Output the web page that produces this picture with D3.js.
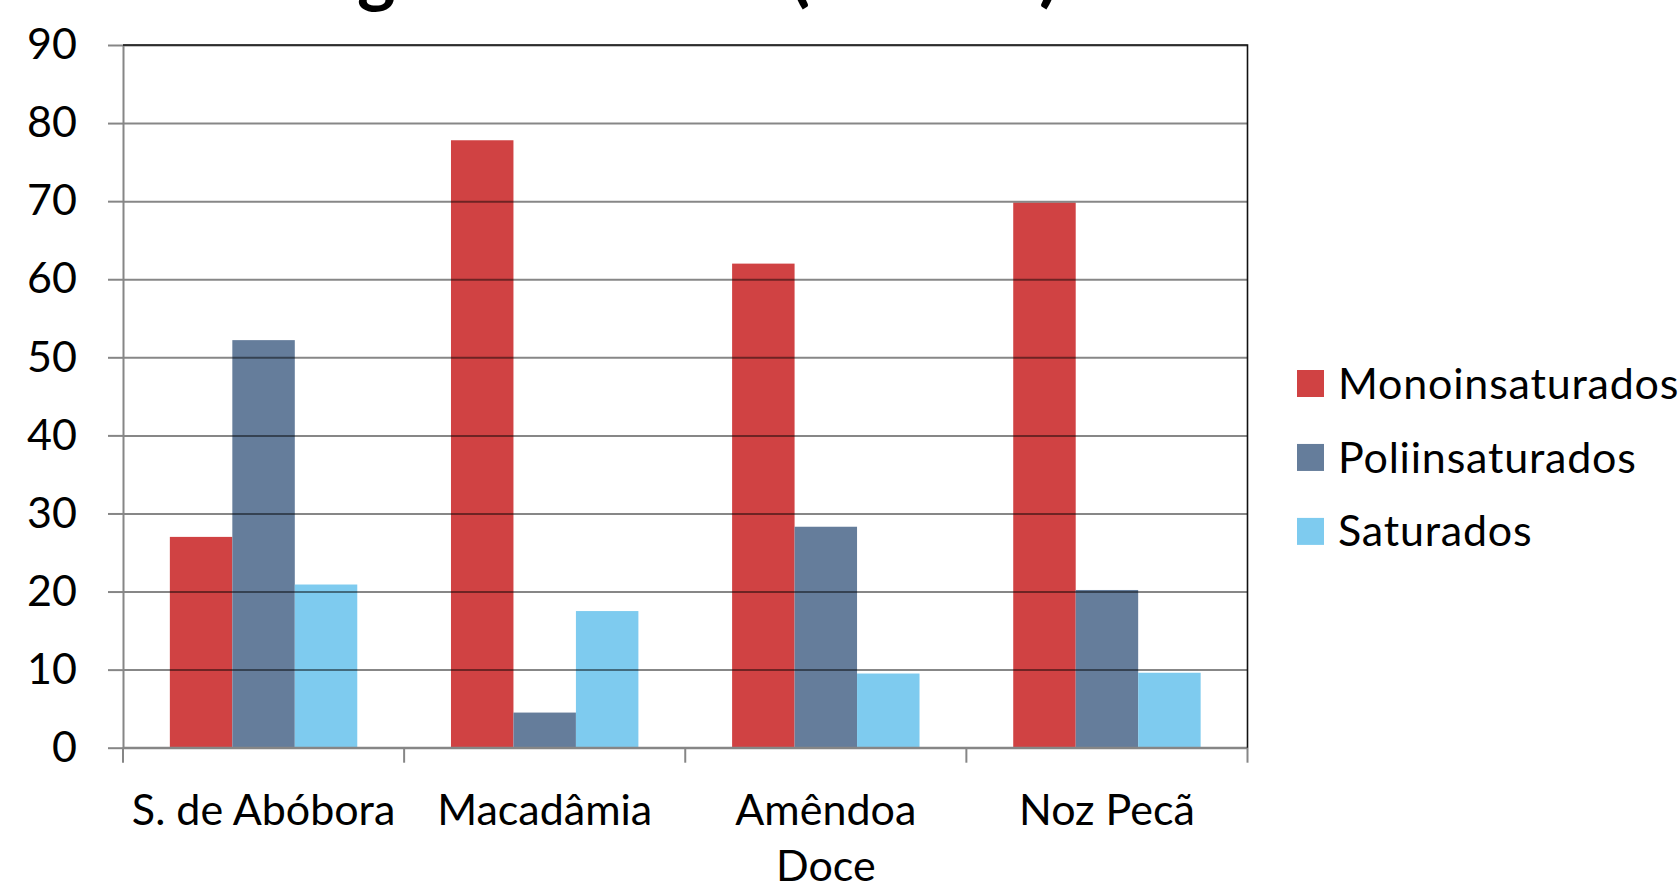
<!DOCTYPE html>
<html>
<head>
<meta charset="utf-8">
<script src="https://cdn.jsdelivr.net/npm/d3@7"></script>
<style>
  html, body { margin: 0; padding: 0; background: #fff; overflow: hidden; }
  text { font-family: Lato, "Open Sans", sans-serif; }
</style>
</head>
<body>
<svg id="chart" width="1680" height="886"></svg>
<script>
// Fatty-acid composition of seeds and nuts
const title = "Ácidos graxos totais (% total)";
const categories = ["S. de Abóbora", "Macadâmia", "Amêndoa Doce", "Noz Pecã"];
const seriesNames = ["Monoinsaturados", "Poliinsaturados", "Saturados"];
const monoinsaturados = [27, 77.8, 62, 69.8];
const poliinsaturados = [52.2, 4.5, 28.3, 20.2];
const saturados = [20.9, 17.5, 9.5, 9.6];
const yTickValues = [0, 10, 20, 30, 40, 50, 60, 70, 80, 90];
const seriesColors = ["#D04243", "#657D9B", "#7ECBEF"];

const seriesValues = [monoinsaturados, poliinsaturados, saturados];
const rows = categories.map((c, i) => ({
  category: c,
  values: seriesNames.map((s, j) => ({ series: s, value: seriesValues[j][i] }))
}));

const svg = d3.select("#chart");
const plot = { left: 123, right: 1247.5, top: 45, bottom: 747.7 };

const x0 = d3.scaleBand().domain(categories).range([plot.left, plot.right]).padding(0);
const x1 = d3.scaleBand().domain(seriesNames).range([0, x0.bandwidth()])
  .paddingInner(0).paddingOuter(0.75);
const y = d3.scaleLinear().domain([0, 90]).range([plot.bottom, plot.top]);
const color = d3.scaleOrdinal().domain(seriesNames).range(seriesColors);

const fontSize = 43;

// Title: large bold heading that runs off the top edge (only descenders show)
const titleText = svg.append("text")
  .attr("font-weight", 700)
  .attr("font-size", 100)
  .attr("y", 0)
  .attr("fill", "#000")
  .text(title);
{
  const node = titleText.node();
  const gi = title.indexOf("g");
  const pi = title.indexOf("(");
  const gx = node.getSubStringLength(0, gi);
  const px = node.getSubStringLength(0, pi);
  const s = (790 - 357) / (px - gx);
  const fs = 100 * s;
  titleText.attr("font-size", fs)
    .attr("x", 357 - gx * s)
    .attr("y", -2);
}

// Bars
const groups = svg.append("g").selectAll("g")
  .data(rows)
  .join("g")
  .attr("transform", d => `translate(${x0(d.category)},0)`);

groups.selectAll("rect")
  .data(d => d.values)
  .join("rect")
  .attr("x", d => x1(d.series))
  .attr("y", d => y(d.value))
  .attr("width", x1.bandwidth())
  .attr("height", d => y(0) - y(d.value))
  .attr("fill", d => color(d.series));

// Gridlines, drawn over the bars
svg.append("g")
  .attr("transform", `translate(${plot.left},0)`)
  .call(d3.axisLeft(y).tickValues(yTickValues).tickSize(-(plot.right - plot.left)).tickFormat(""))
  .call(g => g.select(".domain").remove())
  .call(g => g.selectAll(".tick line")
    .attr("stroke", "#000").attr("stroke-opacity", 0.47).attr("stroke-width", 2));

// Y axis
svg.append("g")
  .attr("transform", `translate(${plot.left},0)`)
  .call(d3.axisLeft(y).tickValues(yTickValues).tickSize(15).tickSizeOuter(0).tickPadding(31))
  .call(g => g.select(".domain").attr("stroke", "#868686").attr("stroke-width", 2))
  .call(g => g.selectAll(".tick line").attr("stroke", "#868686").attr("stroke-width", 2))
  .call(g => g.selectAll(".tick text")
    .attr("font-size", fontSize).attr("fill", "#000")
    .attr("font-family", "Lato, 'Open Sans', sans-serif"));

// X axis: baseline and boundary ticks
const boundaries = categories.map(c => x0(c)).concat([plot.right]);
const xAxis = svg.append("g");
xAxis.append("line")
  .attr("x1", plot.left).attr("x2", plot.right)
  .attr("y1", y(0)).attr("y2", y(0))
  .attr("stroke", "#868686").attr("stroke-width", 2);
xAxis.selectAll("line.bt")
  .data(boundaries)
  .join("line")
  .attr("class", "bt")
  .attr("x1", d => d).attr("x2", d => d)
  .attr("y1", y(0)).attr("y2", y(0) + 15)
  .attr("stroke", "#868686").attr("stroke-width", 2);

// Category labels, wrapped to the band width
const labels = xAxis.selectAll("text.cat")
  .data(categories)
  .join("text")
  .attr("class", "cat")
  .attr("x", d => x0(d) + x0.bandwidth() / 2)
  .attr("y", 825)
  .attr("text-anchor", "middle")
  .attr("font-size", fontSize)
  .attr("fill", "#000");

labels.each(function(d) {
  const t = d3.select(this);
  const words = d.split(" ");
  const maxW = x0.bandwidth() - 6;
  let line = [];
  let tspan = t.append("tspan").attr("x", t.attr("x")).attr("dy", 0);
  for (const w of words) {
    line.push(w);
    tspan.text(line.join(" "));
    if (tspan.node().getComputedTextLength() > maxW && line.length > 1) {
      line.pop();
      tspan.text(line.join(" "));
      line = [w];
      tspan = t.append("tspan").attr("x", t.attr("x")).attr("dy", 56).text(w);
    }
  }
});

// Plot area border (top and right)
svg.append("path")
  .attr("d", `M${plot.left},${plot.top}H${plot.right}V${plot.bottom}`)
  .attr("fill", "none")
  .attr("stroke", "#111")
  .attr("stroke-width", 1.6);

// Legend
const legend = svg.append("g").attr("transform", "translate(1297,0)");
const legendY = d3.scalePoint().domain(seriesNames).range([383.5, 531.4]);
const items = legend.selectAll("g")
  .data(seriesNames)
  .join("g")
  .attr("transform", d => `translate(0,${legendY(d)})`);
items.append("rect")
  .attr("x", 0).attr("y", -13.5)
  .attr("width", 27).attr("height", 27)
  .attr("fill", d => color(d));
items.append("text")
  .attr("x", 41)
  .attr("dy", "0.35em")
  .attr("font-size", fontSize)
  .attr("letter-spacing", 0.8)
  .attr("fill", "#000")
  .text(d => d);
</script>
</body>
</html>
